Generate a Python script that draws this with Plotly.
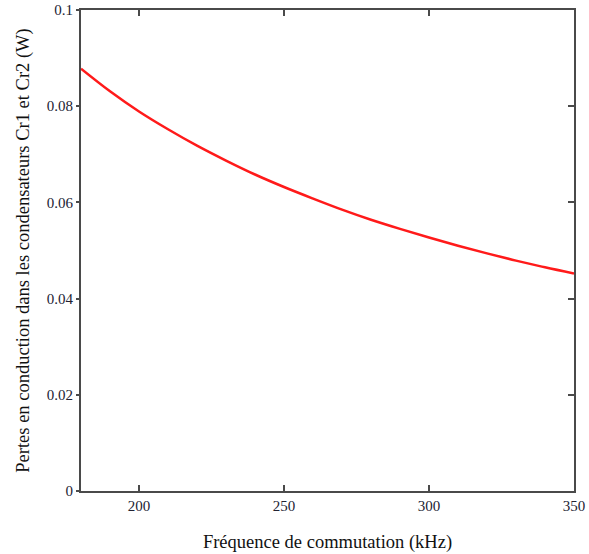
import plotly.graph_objects as go

freq_khz = [180, 190, 200, 210, 220, 230, 240, 250, 260, 270, 280, 290, 300, 310, 320, 330, 340, 350]
pertes_w = [0.0878, 0.0831, 0.0789, 0.0752, 0.0718, 0.0687, 0.0658, 0.0632, 0.0608, 0.0585,
            0.0564, 0.0545, 0.0527, 0.0510, 0.0494, 0.0479, 0.0465, 0.0452]

x_ticks = [200, 250, 300, 350]
y_ticks = [0, 0.02, 0.04, 0.06, 0.08, 0.1]
y_tick_text = ["0", "0.02", "0.04", "0.06", "0.08", "0.1"]

font_family = "'Liberation Serif', 'Times New Roman', serif"
axis_col = "#4a4a4a"

fig = go.Figure()
fig.add_trace(go.Scatter(x=freq_khz, y=pertes_w, mode="lines",
                         line=dict(color="#ff1a1a", width=2.5, shape="spline"),
                         showlegend=False))
# invisible trace for the right-hand y axis (inside ticks)
fig.add_trace(go.Scatter(x=[freq_khz[0]], y=[pertes_w[0]], yaxis="y2", mode="markers",
                         marker=dict(opacity=0), showlegend=False, hoverinfo="skip"))

fig.update_layout(
    width=589, height=554,
    margin=dict(l=81, r=15, t=10, b=63),
    paper_bgcolor="white", plot_bgcolor="white",
    font=dict(family=font_family, size=15, color="#222233"),
    xaxis=dict(range=[180, 350], tickvals=x_ticks, ticks="inside", ticklen=6,
               tickcolor=axis_col, tickwidth=1.5, showline=True, linecolor=axis_col,
               linewidth=2, mirror="ticks", showgrid=False, zeroline=False,
               automargin=False, tickfont=dict(size=15, family=font_family),
               title=dict(text="Fréquence de commutation (kHz)",
                          font=dict(size=18.5, family=font_family, color="#111111"),
                          standoff=22)),
    yaxis=dict(range=[0, 0.1], tickvals=y_ticks, ticktext=y_tick_text, ticks="outside",
               ticklen=3, tickcolor=axis_col, tickwidth=1.5, showline=True,
               linecolor=axis_col, linewidth=2, mirror=True, showgrid=False,
               zeroline=False, automargin=False, tickfont=dict(size=15, family=font_family),
               title=dict(text="Pertes en conduction dans les condensateurs Cr1 et Cr2 (W)",
                          font=dict(size=18.5, family=font_family, color="#111111"),
                          standoff=12)),
    yaxis2=dict(range=[0, 0.1], tickvals=y_ticks, overlaying="y", side="right",
                ticks="inside", ticklen=6, tickcolor=axis_col, tickwidth=1.5,
                showticklabels=False, showline=False, showgrid=False, zeroline=False,
                automargin=False),
)

fig.write_html("out.html", config={"displayModeBar": False},
               post_script="document.body.style.margin='0';document.body.style.overflow='hidden';")
